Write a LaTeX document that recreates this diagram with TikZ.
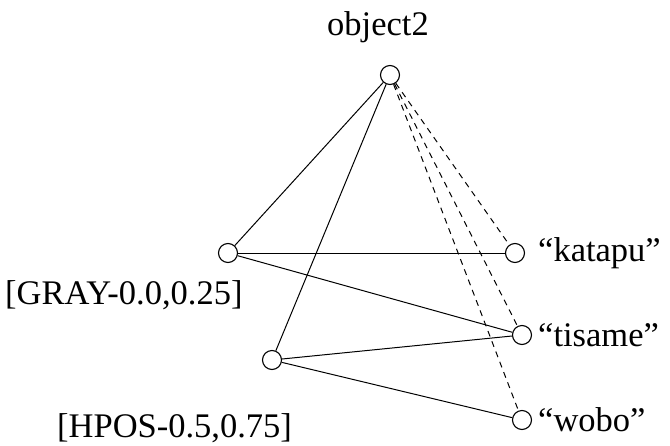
\documentclass[tikz,border=0pt]{standalone}
\usepackage{fontspec}
\setmainfont{Liberation Serif}
\begin{document}
\begin{tikzpicture}[x=1pt,y=-1pt,
  vert/.style={circle,draw,line width=1.1pt,minimum size=19pt,inner sep=0pt},
  lbl/.style={inner sep=0pt,font=\fontsize{34.5}{40}\selectfont},
  edge/.style={line width=1pt},
  dedge/.style={line width=1pt,dash pattern=on 6pt off 5pt}]
\useasboundingbox (0,0) rectangle (670,445);
\node[vert] (top) at (390,75) {};
\node[vert] (gray) at (228,253) {};
\node[vert] (hpos) at (272,360) {};
\node[vert] (kat) at (515,253) {};
\node[vert] (tis) at (522,335) {};
\node[vert] (wob) at (522,420) {};
\node[lbl,anchor=base] (tl) at (378,35) {object2};
\node[lbl,anchor=base west] (gl) at (5,304) {[GRAY-0.0,0.25]};
\node[lbl,anchor=base west] (hl) at (57,437) {[HPOS-0.5,0.75]};
\node[lbl,anchor=base west] (kl) at (538,261) {“katapu”};
\node[lbl,anchor=base west] (til) at (538,346) {“tisame”};
\node[lbl,anchor=base west] (wl) at (538,431) {“wobo”};
\draw[edge] (top) -- (gray);
\draw[edge] (top) -- (hpos);
\draw[edge] (gray) -- (kat);
\draw[edge] (gray) -- (tis);
\draw[edge] (hpos) -- (tis);
\draw[edge] (hpos) -- (wob);
\draw[dedge] (top) -- (kat);
\draw[dedge] (top) -- (tis);
\draw[dedge] (top) -- (wob);
\end{tikzpicture}
\end{document}
